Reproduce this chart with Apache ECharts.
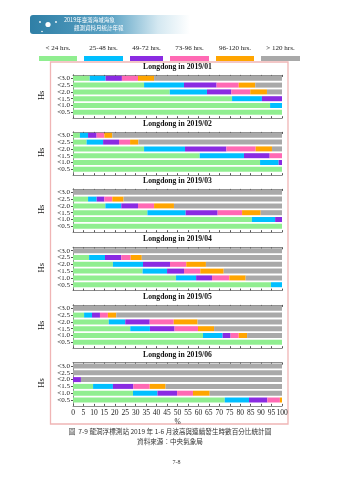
<!DOCTYPE html>
<html><head><meta charset="utf-8">
<script src="https://cdn.jsdelivr.net/npm/echarts@6/dist/echarts.min.js"></script>
<style>html,body{margin:0;padding:0;background:#fff}#c{width:339px;height:480px}</style>
</head><body><div id="c"></div>
<script>
// ---- data ----
const categories = ['<0.5', '<1.0', '<1.5', '<2.0', '<2.5', '<3.0'];
const seriesNames = ['< 24 hrs.', '25-48 hrs.', '49-72 hrs.', '73-96 hrs.', '96-120 hrs.', '> 120 hrs.'];
const months = ['2019/01', '2019/02', '2019/03', '2019/04', '2019/05', '2019/06'];
const xTickStep = 5;
// each month: rows = series (< 24, 25-48, 49-72, 73-96, 96-120, > 120), columns = categories
const m01 = [
  [100, 94.3, 76.1, 46.3, 34.0, 8.0],
  [0, 5.7, 14.3, 17.8, 19.1, 7.6],
  [0, 0, 9.6, 11.7, 15.6, 7.8],
  [0, 0, 0, 9.0, 10.6, 7.7],
  [0, 0, 0, 8.0, 7.9, 7.7],
  [0, 0, 0, 7.2, 12.8, 61.2]
];
const m02 = [
  [100, 89.5, 60.6, 34.0, 6.5, 3.3],
  [0, 8.9, 21.2, 19.6, 7.9, 3.9],
  [0, 1.6, 12.3, 19.8, 7.6, 4.1],
  [0, 0, 5.9, 14.0, 5.3, 3.7],
  [0, 0, 0, 7.8, 4.0, 3.8],
  [0, 0, 0, 4.8, 68.7, 81.2]
];
const m03 = [
  [100, 85.6, 35.6, 15.5, 7.2, 0],
  [0, 11.1, 18.3, 7.6, 4.1, 0],
  [0, 3.3, 15.3, 8.0, 3.7, 0],
  [0, 0, 11.7, 7.7, 3.8, 0],
  [0, 0, 8.9, 9.5, 5.4, 0],
  [0, 0, 10.2, 51.7, 75.8, 100]
];
const m04 = [
  [94.7, 49.3, 33.3, 19.1, 7.7, 0],
  [5.3, 9.6, 11.7, 14.4, 7.6, 0],
  [0, 7.6, 8.1, 12.9, 7.8, 0],
  [0, 8.3, 7.8, 7.8, 4.5, 0],
  [0, 7.8, 11.2, 9.4, 5.3, 0],
  [0, 17.4, 27.9, 36.4, 67.1, 100]
];
const m05 = [
  [100, 62.2, 27.4, 17.1, 5.3, 0],
  [0, 9.4, 9.4, 7.9, 3.8, 0],
  [0, 3.8, 11.8, 11.7, 3.8, 0],
  [0, 3.9, 11.2, 11.5, 3.8, 0],
  [0, 4.0, 7.7, 11.4, 4.0, 0],
  [0, 16.7, 32.5, 40.4, 79.3, 100]
];
const m06 = [
  [72.6, 28.7, 9.6, 0, 0, 0],
  [11.6, 11.7, 9.5, 0, 0, 0],
  [8.8, 9.4, 9.8, 3.8, 0, 0],
  [6.0, 7.6, 7.8, 0, 0, 0],
  [1.0, 8.0, 7.6, 0, 0, 0],
  [0, 34.6, 55.7, 96.2, 100, 100]
];
const monthData = [m01, m02, m03, m04, m05, m06];

// ---- style ----
const colors = ['#90EE90', '#00BFFF', '#8A2BE2', '#FF69B4', '#FFA500', '#A9A9A9'];
const serif = 'Liberation Serif';
const cjk = 'Noto Sans CJK TC';
const plotTops = [74.9, 131.9, 188.9, 247.3, 304.9, 362.6];
const rowH = 6.8;
const plotH = rowH * 6;
const axisCol = '#8c8c8c';

const grid = [], xAxis = [], yAxis = [], series = [], title = [];
plotTops.forEach((t, i) => {
  const last = i === plotTops.length - 1;
  grid.push({ left: 73, right: 57, top: t, height: plotH });
  title.push({
    text: 'Longdong in ' + months[i], left: 177.5, top: t - 12.5, textAlign: 'center', padding: 0,
    textStyle: { fontFamily: serif, fontSize: 7.7, fontWeight: 'bold', color: '#111', lineHeight: 9 }
  });
  // bottom axis
  xAxis.push({
    type: 'value', gridIndex: i, min: 0, max: 100, interval: xTickStep, position: 'bottom', offset: 2.5,
    axisLine: { show: true, lineStyle: { color: axisCol, width: 1 } },
    axisTick: { show: true, inside: true, length: 2, lineStyle: { color: '#555' } },
    splitLine: { show: false },
    axisLabel: { show: last, fontFamily: serif, fontSize: 7.5, color: '#222', margin: 3 },
    name: last ? '%' : '', nameLocation: 'middle', nameGap: 10.5,
    nameTextStyle: { fontFamily: serif, fontSize: 7.5, color: '#222' }
  });
  // top axis
  xAxis.push({
    type: 'value', gridIndex: i, min: 0, max: 100, interval: xTickStep, position: 'top',
    axisLine: { show: true, lineStyle: { color: axisCol, width: 1 } },
    axisTick: { show: true, inside: true, length: 2, lineStyle: { color: '#555' } },
    splitLine: { show: false }, axisLabel: { show: false }
  });
  yAxis.push({
    type: 'category', gridIndex: i, data: categories, position: 'left',
    axisLine: { show: true, lineStyle: { color: axisCol, width: 1 } },
    axisTick: { show: true, inside: true, length: 2, alignWithLabel: true, interval: 0, lineStyle: { color: '#555' } },
    axisLabel: { interval: 0, fontFamily: serif, fontSize: 7, color: '#222', margin: 3 },
    name: 'Hs', nameLocation: 'middle', nameRotate: 90, nameGap: 15.5,
    nameTextStyle: { fontFamily: serif, fontSize: 8.5, color: '#222' }
  });
  yAxis.push({
    type: 'category', gridIndex: i, data: categories, position: 'right',
    axisLine: { show: true, lineStyle: { color: axisCol, width: 1 } },
    axisTick: { show: true, inside: true, length: 2, alignWithLabel: true, interval: 0, lineStyle: { color: '#555' } },
    axisLabel: { show: false }
  });
  seriesNames.forEach((nm, j) => {
    series.push({
      type: 'bar', name: nm, stack: 'p' + i, xAxisIndex: 2 * i, yAxisIndex: 2 * i,
      data: monthData[i][j], barWidth: 5, itemStyle: { color: colors[j] },
      silent: true, animation: false
    });
  });
});

const swLeft = [39, 84, 130, 170, 216, 261];
const swWidth = [38, 39, 33, 39, 38, 39];
const legend = seriesNames.map((nm, j) => ({
  data: [nm], left: swLeft[j], top: 56, itemWidth: swWidth[j], itemHeight: 5, icon: 'rect',
  padding: 0, formatter: () => '', selectedMode: false, textStyle: { fontSize: 1 }
}));

const graphic = [
  // banner
  { type: 'rect', left: 30, top: 15, shape: { width: 160, height: 19, r: [3, 0, 0, 3] }, silent: true,
    style: { fill: new echarts.graphic.LinearGradient(0, 0, 1, 0, [
      { offset: 0, color: '#2f7fa6' }, { offset: 0.5, color: '#5aa2c4' }, { offset: 0.8, color: '#d4e8f1' }, { offset: 1, color: '#ffffff' }]) } },
  { type: 'circle', shape: { cx: 48, cy: 24.5, r: 2.6 }, style: { fill: '#ffffff' }, silent: true },
  { type: 'circle', shape: { cx: 40, cy: 22, r: 0.9 }, style: { fill: '#ffffff' }, silent: true },
  { type: 'circle', shape: { cx: 56, cy: 22, r: 0.9 }, style: { fill: '#ffffff' }, silent: true },
  { type: 'circle', shape: { cx: 42, cy: 31.5, r: 0.8 }, style: { fill: '#ffffff' }, silent: true },
  { type: 'text', left: 64, top: 17.5, style: { text: '2019年臺灣海域海象', font: '5.5px "' + cjk + '"', fill: '#ffffff' }, silent: true },
  { type: 'text', left: 74, top: 25.3, style: { text: '觀測資料月統計年報', font: '5.5px "' + cjk + '"', fill: '#ffffff' }, silent: true },
  // pink frame
  { type: 'rect', shape: { x: 50.5, y: 62, width: 237.5, height: 362 }, silent: true,
    style: { fill: 'none', stroke: '#f0b5b5', lineWidth: 1.3 } },
  // footer
  { type: 'text', x: 170, y: 431.7, style: { text: '圖  7-9 龍洞浮標測站 2019 年 1-6 月波高與連續發生時數百分比統計圖', font: '6.6px "' + cjk + '"', fill: '#333', align: 'center', verticalAlign: 'middle' }, silent: true },
  { type: 'text', x: 170, y: 441.7, style: { text: '資料來源：中央氣象局', font: '6.6px "' + cjk + '"', fill: '#333', align: 'center', verticalAlign: 'middle' }, silent: true },
  { type: 'text', x: 176.5, y: 462.5, style: { text: '7-8', font: '6px "' + serif + '"', fill: '#333', align: 'center', verticalAlign: 'middle' }, silent: true }
];
const labelCx = [58, 103.5, 146.5, 189.5, 235, 280.5];
seriesNames.forEach((nm, j) => {
  graphic.push({ type: 'text', x: labelCx[j], y: 48.3, silent: true,
    style: { text: nm, font: '7px "' + serif + '"', fill: '#222', align: 'center', verticalAlign: 'middle' } });
});

const chart = echarts.init(document.getElementById('c'), null, { renderer: 'canvas' });
chart.setOption({
  animation: false, backgroundColor: '#ffffff',
  title, legend, grid, xAxis, yAxis, series, graphic
});
</script></body></html>
